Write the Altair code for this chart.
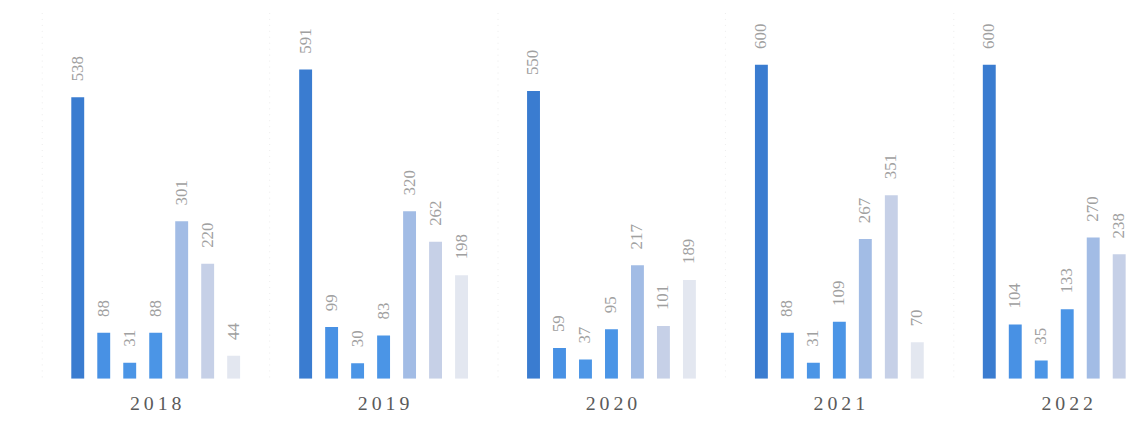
import altair as alt
import pandas as pd

years = ["2018", "2019", "2020", "2021", "2022"]
series = ["s1", "s2", "s3", "s4", "s5", "s6", "s7"]
colors = ["#3a7cd0", "#4891e4", "#4b95e6", "#4b95e6", "#a2bce5", "#c6d0e7", "#e3e7f0"]

v2018 = [538, 88, 31, 88, 301, 220, 44]
v2019 = [591, 99, 30, 83, 320, 262, 198]
v2020 = [550, 59, 37, 95, 217, 101, 189]
v2021 = [600, 88, 31, 109, 267, 351, 70]
v2022 = [600, 104, 35, 133, 270, 238, 142]

rows = []
for y, vals in zip(years, [v2018, v2019, v2020, v2021, v2022]):
    for s, v in zip(series, vals):
        rows.append({"year": y, "series": s, "value": v})
df = pd.DataFrame(rows)

x_enc = alt.X(
    "year:N",
    sort=years,
    scale=alt.Scale(range=[34, 1181.5], paddingInner=0, paddingOuter=0),
    axis=alt.Axis(
        title=None, labelAngle=0, labelFont="Liberation Serif", labelFontSize=20,
        labelColor="#5a5a5a", labelPadding=15, ticks=False, domain=False,
        labelExpr="join(split(datum.label, ''), '\u2009')",
        grid=True, bandPosition=0, gridColor="#ececec", gridDash=[1, 5],
    ),
)
xo_enc = alt.XOffset("series:N", sort=series,
                     scale=alt.Scale(paddingInner=0.23, paddingOuter=1))
y_enc = alt.Y("value:Q", scale=alt.Scale(domain=[0, 700]), axis=None)

base = alt.Chart(df).encode(x=x_enc, xOffset=xo_enc, y=y_enc)

bars = base.mark_bar(clip=True, width=13).encode(
    color=alt.Color("series:N", sort=series,
                    scale=alt.Scale(domain=series, range=colors), legend=None)
)
labels = base.mark_text(
    clip=True, angle=270, align="left", baseline="middle", dx=16,
    font="Liberation Serif", fontSize=17, color="#a0a0a0",
).encode(text="value:Q")

chart = (bars + labels).properties(
    width=1135, height=369,
    autosize=alt.AutoSizeParams(type="none"),
    padding={"left": 0, "right": 0, "top": 3, "bottom": 50},
).configure_view(stroke=None)
chart.save("out.html", embed_options={"renderer": "svg", "actions": False})
